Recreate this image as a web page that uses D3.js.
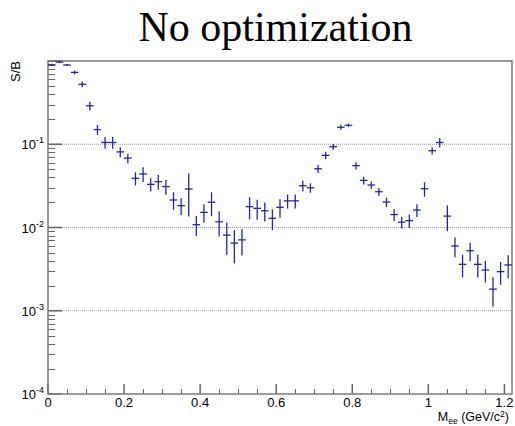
<!DOCTYPE html>
<html>
<head>
<meta charset="utf-8">
<script src="https://cdn.jsdelivr.net/npm/d3@7"></script>
<style>
  body { margin: 0; background: #fff; }
  svg { display: block; }
  text { font-family: "Liberation Sans", Arial, sans-serif; fill: #000; }
</style>
</head>
<body>
<div id="chart"></div>
<script>
// bin centres (GeV/c^2)
const mass = [0.01, 0.03, 0.05, 0.07, 0.09, 0.11, 0.13, 0.15, 0.17, 0.19,
  0.21, 0.23, 0.25, 0.27, 0.29, 0.31, 0.33, 0.35, 0.37, 0.39,
  0.41, 0.43, 0.45, 0.47, 0.49, 0.51, 0.53, 0.55, 0.57, 0.59,
  0.61, 0.63, 0.65, 0.67, 0.69, 0.71, 0.73, 0.75, 0.77, 0.79,
  0.81, 0.83, 0.85, 0.87, 0.89, 0.91, 0.93, 0.95, 0.97, 0.99,
  1.01, 1.03, 1.05, 1.07, 1.09, 1.11, 1.13, 1.15, 1.17, 1.19, 1.21];

// S/B per bin
const sb = [0.90, 0.97, 0.895, 0.73, 0.525, 0.29, 0.15, 0.105, 0.105, 0.081,
  0.068, 0.039, 0.044, 0.033, 0.0355, 0.031, 0.0214, 0.0183, 0.029, 0.0108,
  0.0152, 0.0201, 0.0117, 0.0081, 0.0065, 0.0071, 0.0178, 0.017, 0.0159, 0.0129,
  0.0175, 0.0209, 0.0209, 0.0318, 0.030, 0.0508, 0.0736, 0.0935, 0.16, 0.169,
  0.0553, 0.0368, 0.0324, 0.0269, 0.0202, 0.0143, 0.0116, 0.0121, 0.0162, 0.0292,
  0.0837, 0.105, 0.0137, 0.006, 0.00361, 0.00526, 0.00361, 0.00309, 0.00182, 0.00295, 0.00355];

// error on S/B
const sbErr = [0.027, 0.03, 0.027, 0.037, 0.042, 0.035, 0.02, 0.017, 0.017, 0.011,
  0.009, 0.007, 0.0088, 0.006, 0.0071, 0.0062, 0.0051, 0.0042, 0.0154, 0.0029,
  0.0038, 0.0064, 0.0039, 0.0034, 0.0028, 0.0025, 0.0053, 0.0046, 0.0041, 0.0036,
  0.0044, 0.004, 0.004, 0.0048, 0.0039, 0.0056, 0.0074, 0.0075, 0.011, 0.0085,
  0.0055, 0.004, 0.0032, 0.003, 0.0026, 0.0023, 0.0019, 0.0022, 0.0028, 0.0058,
  0.0084, 0.0137, 0.0047, 0.0016, 0.0011, 0.0013, 0.0011, 0.0009, 0.0007, 0.0009, 0.0011];

const binWidth = 0.02;
const xTicks = [0, 0.2, 0.4, 0.6, 0.8, 1, 1.2];
const yDecades = [-4, -3, -2, -1, 0];

const W = 515, H = 426;
const margin = { top: 61, right: 3, bottom: 32, left: 48 };
const width = W - margin.left - margin.right;
const height = H - margin.top - margin.bottom;

const svg = d3.select('#chart')
  .append('svg')
  .attr('width', W)
  .attr('height', H);

svg.append('text')
  .attr('x', 275.5)
  .attr('y', 41)
  .attr('text-anchor', 'middle')
  .style('font-family', '"Liberation Serif", "Times New Roman", serif')
  .style('font-size', '42px')
  .text('No optimization');

const g = svg.append('g')
  .attr('transform', `translate(${margin.left},${margin.top})`);

const x = d3.scaleLinear().domain([0, 1.22]).range([0, width]);
const y = d3.scaleLog().domain([1e-4, 1]).range([height, 0]);

// dotted grid at the decades
g.selectAll('.grid')
  .data(yDecades.slice(1, -1))
  .enter()
  .append('line')
  .attr('x1', 0)
  .attr('x2', width)
  .attr('y1', d => y(Math.pow(10, d)))
  .attr('y2', d => y(Math.pow(10, d)))
  .attr('stroke', '#9a9a9a')
  .attr('stroke-width', 1)
  .attr('stroke-dasharray', '1,1');

// y ticks (major + minor), pointing into the frame
const yMinor = [];
yDecades.slice(0, -1).forEach(p => {
  for (let k = 2; k <= 9; k++) yMinor.push(k * Math.pow(10, p));
});
g.selectAll('.ymin')
  .data(yMinor)
  .enter()
  .append('line')
  .attr('x1', 0).attr('x2', 7)
  .attr('y1', d => Math.round(y(d)) + 0.5)
  .attr('y2', d => Math.round(y(d)) + 0.5)
  .attr('stroke', '#666');
g.selectAll('.ymaj')
  .data(yDecades)
  .enter()
  .append('line')
  .attr('x1', 0).attr('x2', 14)
  .attr('y1', d => y(Math.pow(10, d)))
  .attr('y2', d => y(Math.pow(10, d)))
  .attr('stroke', '#666')
  .attr('stroke-width', 1.5);

const ylab = g.selectAll('.ylab')
  .data(yDecades.slice(0, -1))
  .enter()
  .append('text')
  .attr('x', -4)
  .attr('y', d => y(Math.pow(10, d)) + 5)
  .attr('text-anchor', 'end')
  .style('font-size', '13px');
ylab.append('tspan').text('10');
ylab.append('tspan')
  .attr('dy', -6)
  .style('font-size', '9px')
  .text(d => d);

// x ticks
const xMinor = d3.range(0, 1.22, 0.05).filter(v => Math.abs(v / 0.2 - Math.round(v / 0.2)) > 1e-6);
g.selectAll('.xmin')
  .data(xMinor)
  .enter()
  .append('line')
  .attr('x1', d => Math.round(x(d)) + 0.5)
  .attr('x2', d => Math.round(x(d)) + 0.5)
  .attr('y1', height).attr('y2', height - 5)
  .attr('stroke', '#666');
g.selectAll('.xmaj')
  .data(xTicks)
  .enter()
  .append('line')
  .attr('x1', d => x(d)).attr('x2', d => x(d))
  .attr('y1', height).attr('y2', height - 10)
  .attr('stroke', '#666')
  .attr('stroke-width', 1.5);
g.selectAll('.xlab')
  .data(xTicks)
  .enter()
  .append('text')
  .attr('x', d => x(d))
  .attr('y', height + 13)
  .attr('text-anchor', 'middle')
  .style('font-size', '13px')
  .text(d => d);

// frame
g.append('rect')
  .attr('x', 0).attr('y', 0)
  .attr('width', width).attr('height', height)
  .attr('fill', 'none')
  .attr('stroke', '#7a7a7a')
  .attr('stroke-width', 1.5);

// points with error bars
svg.append('clipPath').attr('id', 'clip')
  .append('rect').attr('width', width).attr('height', height);

const pts = mass.map((m, i) => ({ m, v: sb[i], e: sbErr[i] }));
const marks = g.append('g').attr('clip-path', 'url(#clip)');
const pg = marks.selectAll('.pt')
  .data(pts)
  .enter()
  .append('g');
pg.append('line')
  .attr('x1', d => x(d.m - binWidth / 2))
  .attr('x2', d => x(d.m + binWidth / 2))
  .attr('y1', d => y(d.v)).attr('y2', d => y(d.v))
  .attr('stroke', '#2626a0')
  .attr('stroke-width', 1.3);
pg.append('line')
  .attr('x1', d => x(d.m)).attr('x2', d => x(d.m))
  .attr('y1', d => y(d.v + d.e))
  .attr('y2', d => y(Math.max(d.v - d.e, 1e-5)))
  .attr('stroke', '#2626a0')
  .attr('stroke-width', 1.3);

// axis titles
svg.append('text')
  .attr('transform', `translate(20,${margin.top}) rotate(-90)`)
  .attr('text-anchor', 'end')
  .style('font-size', '13px')
  .text('S/B');

const xt = svg.append('text')
  .attr('x', W - 6)
  .attr('y', 421)
  .attr('text-anchor', 'end')
  .style('font-size', '12.5px');
xt.append('tspan').text('M');
xt.append('tspan').attr('dy', 2.5).style('font-size', '8.5px').text('ee');
xt.append('tspan').attr('dy', -2.5).text(' (GeV/c');
xt.append('tspan').attr('dy', -4.5).style('font-size', '8.5px').text('2');
xt.append('tspan').attr('dy', 4.5).text(')');
</script>
</body>
</html>
